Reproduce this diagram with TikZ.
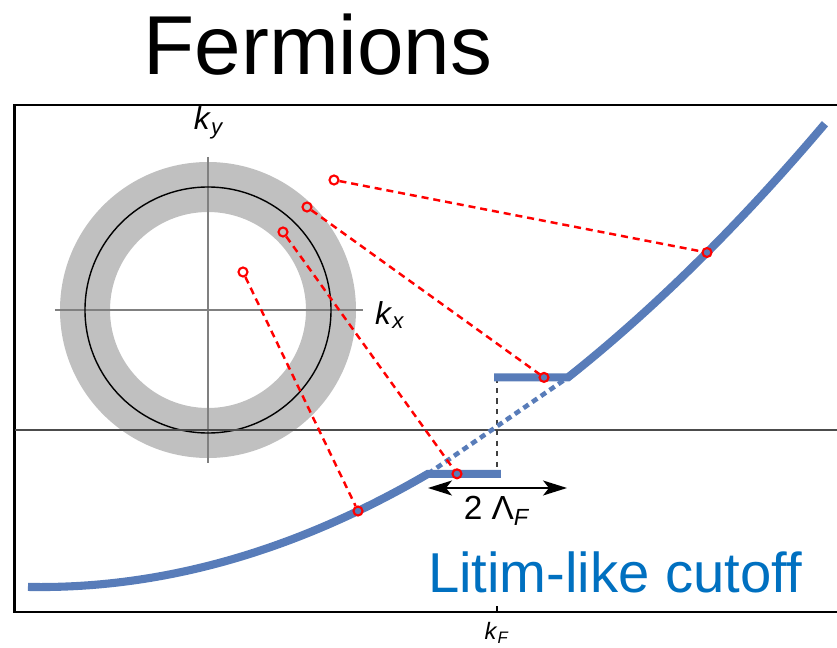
\documentclass[tikz,border=0pt]{standalone}
\usepackage{fontspec}
\setmainfont{Liberation Sans}
\usetikzlibrary{arrows.meta,positioning,calc}
\definecolor{CurveBlue}{RGB}{88,124,185}
\definecolor{LabelBlue}{RGB}{0,112,192}
\definecolor{ShellGray}{RGB}{192,192,192}
\newcommand{\kvec}[1]{\textit{k}\textsubscript{\textit{#1}}}

\begin{document}
\begin{tikzpicture}[x=2cm,y=2cm,
    declare function={disp(\k)=0.0752*((\k+4.57)*(\k+4.57)-20.885);},
    dot/.style={circle,draw=red,line width=1.2pt,inner sep=0pt,minimum size=0.18cm},
    link/.style={red,line width=1.4pt,dash pattern=on 4pt off 2.8pt},
    band/.style={CurveBlue,line width=4.6pt},
    lbl/.style={font=\fontsize{18}{21}\selectfont}]
  \useasboundingbox (-4.97,-2.18) rectangle (3.40,4.30);
  % frame and energy axis
  \draw[line width=1.7pt] (3.50,3.25) -| (-4.82,-1.82) -- (3.50,-1.82);
  % momentum plane with the shell around the Fermi surface
  \fill[ShellGray,even odd rule] (-2.89,1.20) circle (1.48) circle (0.98);
  \draw[gray,line width=0.6pt] (-4.42,1.20)--(-1.34,1.20);
  \draw[gray,line width=0.6pt] (-2.89,2.73)--(-2.89,-0.33);
  \draw[line width=0.8pt] (-2.89,1.20) circle (1.23);
  \node[lbl] (ky) at (-2.88,3.07) {\kvec{y}};
  \node[lbl] (kx) at (-1.07,1.15) {\kvec{x}};
  \draw[black!70,line width=0.7pt] (-4.82,0)--(3.40,0);
  % step of the regulated dispersion
  \coordinate (lowL) at (-0.69,{disp(-0.69)});
  \coordinate (lowR) at (0.04,{disp(-0.69)});
  \coordinate (upL) at (-0.03,{disp(0.71)});
  \coordinate (upR) at (0.71,{disp(0.71)});
  \coordinate (stepTop) at (0,{disp(0.71)});
  \coordinate (stepBot) at (0,{disp(-0.69)});
  \draw[black!75,dashed,line width=0.7pt] (stepTop)--(stepBot);
  \draw[band,line width=2.6pt,dash pattern=on 3.5pt off 2.5pt] (lowL)--(upR);
  \draw[band] plot[domain=-4.69:-0.69,samples=60] (\x,{disp(\x)}) -- (lowR);
  \draw[band] (upL) -- plot[domain=0.71:3.28,samples=60] (\x,{disp(\x)});
  % width of the cutoff window
  \coordinate (wL) at (-0.69,-0.58);
  \coordinate (wR) at (0.70,-0.58);
  \draw[{Stealth[length=4.8mm,width=3mm,inset=1.2mm]}-{Stealth[length=4.8mm,width=3mm,inset=1.2mm]},line width=0.8pt] (wL)--(wR);
  \node[font=\fontsize{19}{22}\selectfont] (width) at (0,-0.81) {2 Λ\textsubscript{\textit{F}}};
  % Fermi momentum
  \draw[line width=0.9pt] (0,-1.82)--(0,-1.76);
  \node[font=\fontsize{13.5}{16}\selectfont] (kF) at (0,-2.03) {\kvec{F}};
  % momenta mapped onto the dispersion
  \node[dot] (m1) at (-1.63,2.50) {};
  \node[dot] (m2) at (-1.90,2.23) {};
  \node[dot] (m3) at (-2.14,1.98) {};
  \node[dot] (m4) at (-2.54,1.58) {};
  \node[dot] (e1) at (2.10,{disp(2.10)}) {};
  \node[dot] (e2) at (0.47,{disp(0.71)}) {};
  \node[dot] (e3) at (-0.40,{disp(-0.69)}) {};
  \node[dot] (e4) at (-1.39,{disp(-1.39)}) {};
  \foreach \i in {1,...,4} \draw[link] (m\i) -- (e\i);
  % titles
  \node[font=\fontsize{47.6}{56}\selectfont] (title) at (-1.79,3.85) {Fermions};
  \node[LabelBlue,font=\fontsize{32}{38}\selectfont] (cutoff) at (1.18,-1.42) {Litim-like cutoff};
\end{tikzpicture}
\end{document}
